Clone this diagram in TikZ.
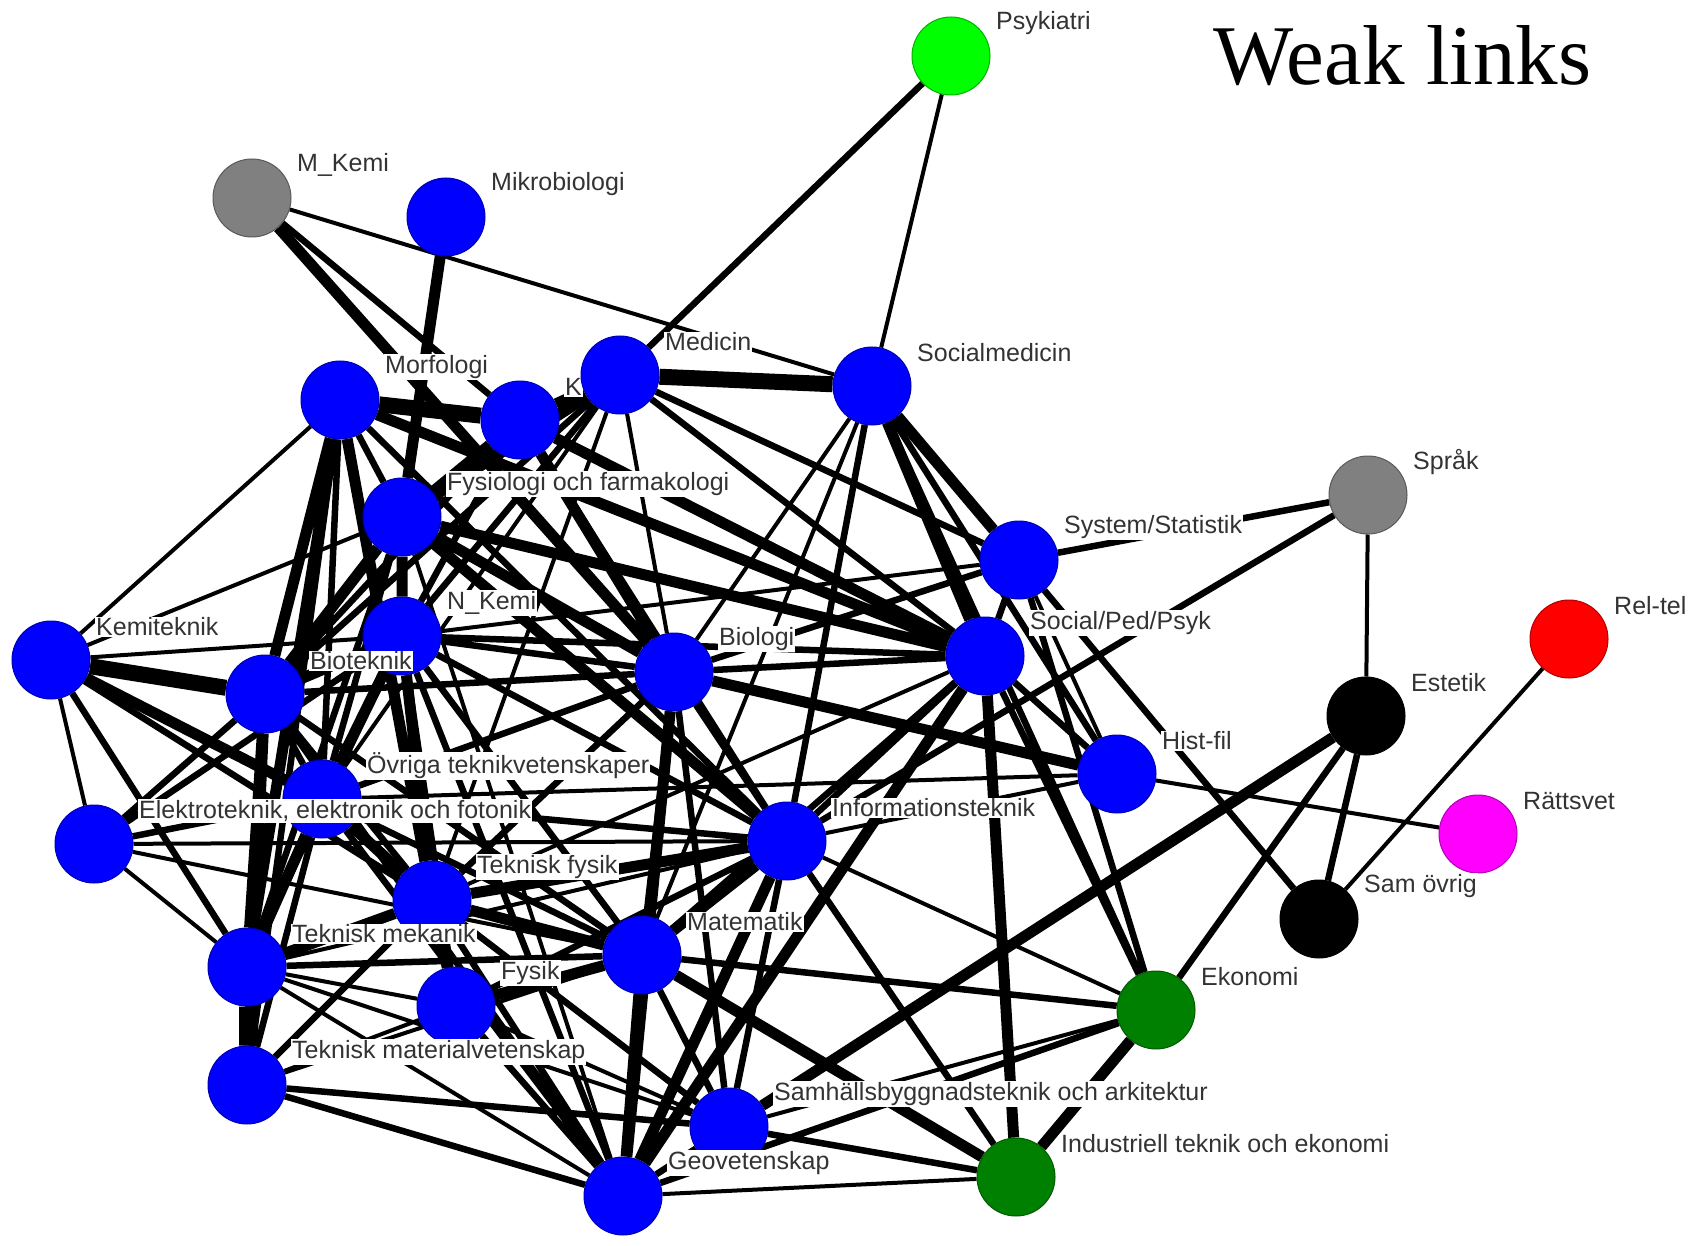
\documentclass[tikz,border=0pt]{standalone}
\usepackage{fontspec}
\setmainfont{Liberation Sans}
\newfontfamily\titlefont{Liberation Serif}
\usetikzlibrary{backgrounds}

\definecolor{dkgreen}{RGB}{0,128,0}
\definecolor{mag}{RGB}{255,0,255}

\tikzset{
  vert/.style={circle, draw=#1!70!black, fill=#1, minimum size=78pt, inner sep=0pt, line width=1pt},
  lbl/.style={anchor=west, xshift=44pt, yshift=33pt, fill=white, inner sep=1pt,
    text=black!80, font=\fontsize{25}{30}\selectfont},
  lwa/.style={line width=4pt},
  lwb/.style={line width=6.5pt},
  lwc/.style={line width=11pt},
  lwd/.style={line width=16pt}
}

\begin{document}
\begin{tikzpicture}[x=1pt,y=-1pt]
  \useasboundingbox (0,0) rectangle (1705,1246);

  % vertices with their names
  \node[vert=green] (psy) at (951,56) {};
  \node[lbl] (psy-t) at (psy) {Psykiatri};
  \node[vert=gray] (mkemi) at (252,198) {};
  \node[lbl] (mkemi-t) at (mkemi) {M\_Kemi};
  \node[vert=blue] (mikro) at (446,217) {};
  \node[lbl] (mikro-t) at (mikro) {Mikrobiologi};
  \node[vert=blue] (morf) at (340,400) {};
  \node[lbl] (morf-t) at (morf) {Morfologi};
  \node[vert=blue] (klin) at (520,420) {};
  \node[lbl] (klin-t) at (klin) {K};
  \node[vert=blue] (med) at (620,375) {};
  \node[lbl] (med-t) at (med) {Medicin};
  \node[vert=blue] (socmed) at (872,386) {};
  \node[lbl] (socmed-t) at (socmed) {Socialmedicin};
  \node[vert=blue] (fys) at (402,517) {};
  \node[lbl] (fys-t) at (fys) {Fysiologi och farmakologi};
  \node[vert=blue] (sys) at (1019,560) {};
  \node[lbl] (sys-t) at (sys) {System/Statistik};
  \node[vert=gray] (sprak) at (1368,495) {};
  \node[lbl] (sprak-t) at (sprak) {Språk};
  \node[vert=blue] (kemtek) at (51,660) {};
  \node[lbl] (kemtek-t) at (kemtek) {Kemiteknik};
  \node[vert=blue] (nkemi) at (402,636) {};
  \node[lbl] (nkemi-t) at (nkemi) {N\_Kemi};
  \node[vert=blue] (biotek) at (265,694) {};
  \node[lbl] (biotek-t) at (biotek) {Bioteknik};
  \node[vert=blue] (bio) at (674,672) {};
  \node[lbl] (bio-t) at (bio) {Biologi};
  \node[vert=blue] (spp) at (985,656) {};
  \node[lbl] (spp-t) at (spp) {Social/Ped/Psyk};
  \node[vert=red] (rel) at (1569,639) {};
  \node[lbl] (rel-t) at (rel) {Rel-tel};
  \node[vert=black] (estetik) at (1366,716) {};
  \node[lbl] (estetik-t) at (estetik) {Estetik};
  \node[vert=blue] (hist) at (1117,774) {};
  \node[lbl] (hist-t) at (hist) {Hist-fil};
  \node[vert=mag] (ratt) at (1478,834) {};
  \node[lbl] (ratt-t) at (ratt) {Rättsvet};
  \node[vert=blue] (ovr) at (322,799) {};
  \node[lbl] (ovr-t) at (ovr) {Övriga teknikvetenskaper};
  \node[vert=blue] (elek) at (94,844) {};
  \node[lbl] (elek-t) at (elek) {Elektroteknik, elektronik och fotonik};
  \node[vert=blue] (info) at (787,841) {};
  \node[lbl] (info-t) at (info) {Informationsteknik};
  \node[vert=black] (samov) at (1319,919) {};
  \node[lbl] (samov-t) at (samov) {Sam övrig};
  \node[vert=blue] (tfys) at (432,900) {};
  \node[lbl] (tfys-t) at (tfys) {Teknisk fysik};
  \node[vert=blue] (tmek) at (247,967) {};
  \node[lbl] (tmek-t) at (tmek) {Teknisk mekanik};
  \node[vert=blue] (mat) at (642,955) {};
  \node[lbl] (mat-t) at (mat) {Matematik};
  \node[vert=blue] (fysik) at (456,1006) {};
  \node[lbl] (fysik-t) at (fysik) {Fysik};
  \node[vert=dkgreen] (eko) at (1156,1010) {};
  \node[lbl] (eko-t) at (eko) {Ekonomi};
  \node[vert=blue] (tmat) at (247,1085) {};
  \node[lbl] (tmat-t) at (tmat) {Teknisk materialvetenskap};
  \node[vert=blue] (samh) at (729,1127) {};
  \node[lbl] (samh-t) at (samh) {Samhällsbyggnadsteknik och arkitektur};
  \node[vert=dkgreen] (ind) at (1016,1177) {};
  \node[lbl] (ind-t) at (ind) {Industriell teknik och ekonomi};
  \node[vert=blue] (geo) at (623,1196) {};
  \node[lbl] (geo-t) at (geo) {Geovetenskap};

  \node[anchor=base west, font=\titlefont\fontsize{85}{90}\selectfont] (title) at (1210,85) {Weak links};

  % links, under the vertices
  \begin{pgfonlayer}{background}
    \draw[lwd] (med) -- (socmed) (kemtek) -- (biotek) (tmek) -- (tmat) (morf) -- (klin);
    \draw[lwc] (mkemi) -- (bio) (mikro) -- (fys) (klin) -- (med) (morf) -- (biotek)
      (morf) -- (tmek) (morf) -- (spp) (morf) -- (tfys) (klin) -- (fys) (klin) -- (bio)
      (klin) -- (spp) (med) -- (fys) (socmed) -- (sys) (socmed) -- (spp) (fys) -- (spp)
      (fys) -- (biotek) (fys) -- (nkemi) (biotek) -- (nkemi) (biotek) -- (tmek)
      (biotek) -- (tmat) (kemtek) -- (ovr) (ovr) -- (nkemi) (ovr) -- (tmek) (ovr) -- (tfys)
      (nkemi) -- (tfys) (bio) -- (geo) (bio) -- (hist) (info) -- (mat) (info) -- (tfys)
      (info) -- (geo) (tfys) -- (tmek) (tfys) -- (mat) (tfys) -- (fysik) (mat) -- (fysik)
      (mat) -- (geo) (mat) -- (ind) (spp) -- (ind) (spp) -- (geo) (eko) -- (ind)
      (estetik) -- (samh) (fys) -- (bio) (fys) -- (info);
    \draw[lwb] (psy) -- (med) (mkemi) -- (klin) (morf) -- (tmat) (morf) -- (ovr)
      (morf) -- (fys) (morf) -- (info) (klin) -- (nkemi) (klin) -- (biotek) (klin) -- (info)
      (med) -- (nkemi) (med) -- (biotek) (med) -- (sys) (med) -- (spp) (socmed) -- (hist)
      (socmed) -- (info) (socmed) -- (eko) (fys) -- (tmek)
      (fys) -- (ovr) (bio) -- (sys) (sys) -- (sprak) (sys) -- (spp) (sys) -- (samov)
      (sys) -- (eko) (sprak) -- (info) (estetik) -- (eko) (estetik) -- (samov)
      (spp) -- (hist) (spp) -- (bio) (spp) -- (nkemi) (spp) -- (info) (spp) -- (mat)
      (spp) -- (eko) (kemtek) -- (tmek) (kemtek) -- (tfys) (elek) -- (biotek)
      (elek) -- (nkemi) (elek) -- (ovr) (biotek) -- (ovr) (biotek) -- (bio)
      (biotek) -- (tfys) (biotek) -- (mat) (biotek) -- (geo) (ovr) -- (mat) (ovr) -- (info)
      (ovr) -- (bio) (ovr) -- (geo) (ovr) -- (tmat) (nkemi) -- (bio) (nkemi) -- (tmek)
      (nkemi) -- (mat) (nkemi) -- (info) (nkemi) -- (geo) (nkemi) -- (fysik)
      (bio) -- (info) (bio) -- (mat) (bio) -- (tfys) (bio) -- (samh) (info) -- (samh)
      (info) -- (ind) (info) -- (fysik) (tfys) -- (geo) (tfys) -- (tmat) (tfys) -- (samh)
      (tmek) -- (mat) (mat) -- (samh) (mat) -- (eko) (fysik) -- (geo) (tmat) -- (geo)
      (tmat) -- (samh) (samh) -- (geo) (samh) -- (ind) (eko) -- (geo);
    \draw[lwa] (psy) -- (socmed) (mkemi) -- (socmed) (morf) -- (kemtek) (med) -- (bio)
      (med) -- (tfys) (med) -- (ovr) (socmed) -- (bio) (socmed) -- (mat) (fys) -- (geo)
      (fys) -- (kemtek) (sprak) -- (estetik) (rel) -- (samov) (hist) -- (ratt)
      (sys) -- (hist) (hist) -- (info) (hist) -- (ovr) (spp) -- (biotek) (spp) -- (tfys)
      (kemtek) -- (elek) (kemtek) -- (nkemi) (elek) -- (tmek) (elek) -- (mat)
      (elek) -- (info) (bio) -- (ind) (info) -- (eko) (info) -- (tmek) (tmek) -- (fysik)
      (tmek) -- (geo) (tmek) -- (samh) (mat) -- (tmat) (fysik) -- (tmat) (fysik) -- (samh)
      (samh) -- (eko) (ind) -- (geo) (nkemi) -- (sys);
  \end{pgfonlayer}
\end{tikzpicture}
\end{document}
